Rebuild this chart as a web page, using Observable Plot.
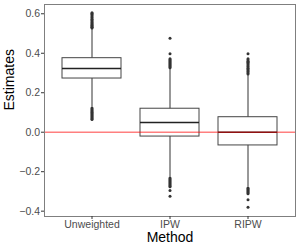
<!DOCTYPE html>
<html>
<head>
<meta charset="utf-8">
<script src="https://cdn.jsdelivr.net/npm/d3@7"></script>
<script src="https://cdn.jsdelivr.net/npm/@observablehq/plot@0.6"></script>
<style>
  html, body { margin: 0; padding: 0; background: #fff; }
  #chart svg { display: block; }
</style>
</head>
<body>
<div id="chart"></div>
<script>
const methods = ["Unweighted", "IPW", "RIPW"];
const q1 = [0.272, -0.022, -0.067];
const median = [0.323, 0.049, 0.0];
const q3 = [0.375, 0.119, 0.076];
const whiskerLow = [0.127, -0.228, -0.278];
const whiskerHigh = [0.524, 0.323, 0.291];

const outliersUnweighted = [0.528, 0.532, 0.536, 0.54, 0.545, 0.55, 0.555, 0.56, 0.566, 0.572, 0.578, 0.584, 0.59, 0.596, 0.601, 0.605,
  0.123, 0.118, 0.113, 0.108, 0.103, 0.098, 0.093, 0.088, 0.083, 0.078, 0.073, 0.068, 0.064];
const outliersIPW = [0.327, 0.332, 0.337, 0.342, 0.347, 0.352, 0.357, 0.362, 0.367, 0.372, 0.397, 0.476,
  -0.232, -0.237, -0.242, -0.247, -0.252, -0.257, -0.262, -0.267, -0.272, -0.276, -0.295, -0.324];
const outliersRIPW = [0.295, 0.3, 0.306, 0.312, 0.318, 0.324, 0.33, 0.336, 0.342, 0.348, 0.354, 0.36, 0.366, 0.372, 0.397,
  -0.282, -0.287, -0.292, -0.297, -0.302, -0.307, -0.312, -0.342, -0.38];

const yTicks = [-0.4, -0.2, 0.0, 0.2, 0.4, 0.6];

const boxes = methods.map((m, i) => ({
  method: m, q1: q1[i], median: median[i], q3: q3[i], lo: whiskerLow[i], hi: whiskerHigh[i]
}));
const outliers = [
  ...outliersUnweighted.map(v => ({method: "Unweighted", value: v})),
  ...outliersIPW.map(v => ({method: "IPW", value: v})),
  ...outliersRIPW.map(v => ({method: "RIPW", value: v}))
];

const font = "'Liberation Sans', Arial, Helvetica, sans-serif";

const chart = Plot.plot({
  width: 299,
  height: 249,
  marginLeft: 44,
  marginRight: 4,
  marginTop: 4,
  marginBottom: 33,
  style: {fontFamily: font, background: "#fff"},
  x: {type: "band", domain: methods, paddingInner: 0.247, paddingOuter: 0.224, axis: null},
  y: {domain: [-0.427, 0.647], axis: null},
  marks: [
    Plot.ruleX(boxes, {x: "method", y1: "lo", y2: "hi", stroke: "#333", strokeWidth: 1}),
    Plot.barY(boxes, {x: "method", y1: "q1", y2: "q3", fill: "#fff", stroke: "#444", strokeWidth: 1, inset: 0}),
    Plot.tickY(boxes, {x: "method", y: "median", stroke: "#222", strokeWidth: 1.6}),
    Plot.dot(outliers, {x: "method", y: "value", r: 1.5, fill: "#333", stroke: "none"}),
    Plot.ruleY([0], {stroke: "#ff0000", strokeOpacity: 0.5, strokeWidth: 1.6}),
    Plot.frame({stroke: "#7f7f7f", strokeWidth: 1}),
    Plot.axisY({ticks: yTicks, tickFormat: d3.format(".1f"), tickSize: 3, tickPadding: 1.5, fontSize: 10.5, fill: "#4d4d4d", stroke: "#333", label: null}),
    Plot.axisX({tickSize: 3, tickPadding: 1.5, fontSize: 10.5, fill: "#4d4d4d", stroke: "#333", label: null}),
    Plot.text(["Estimates"], {frameAnchor: "left", rotate: -90, dx: -35, fontSize: 14, fill: "#000"}),
    Plot.text(["Method"], {frameAnchor: "bottom", lineAnchor: "middle", dy: 21, fontSize: 14, fill: "#000"})
  ]
});
document.getElementById("chart").appendChild(chart);
</script>
</body>
</html>
